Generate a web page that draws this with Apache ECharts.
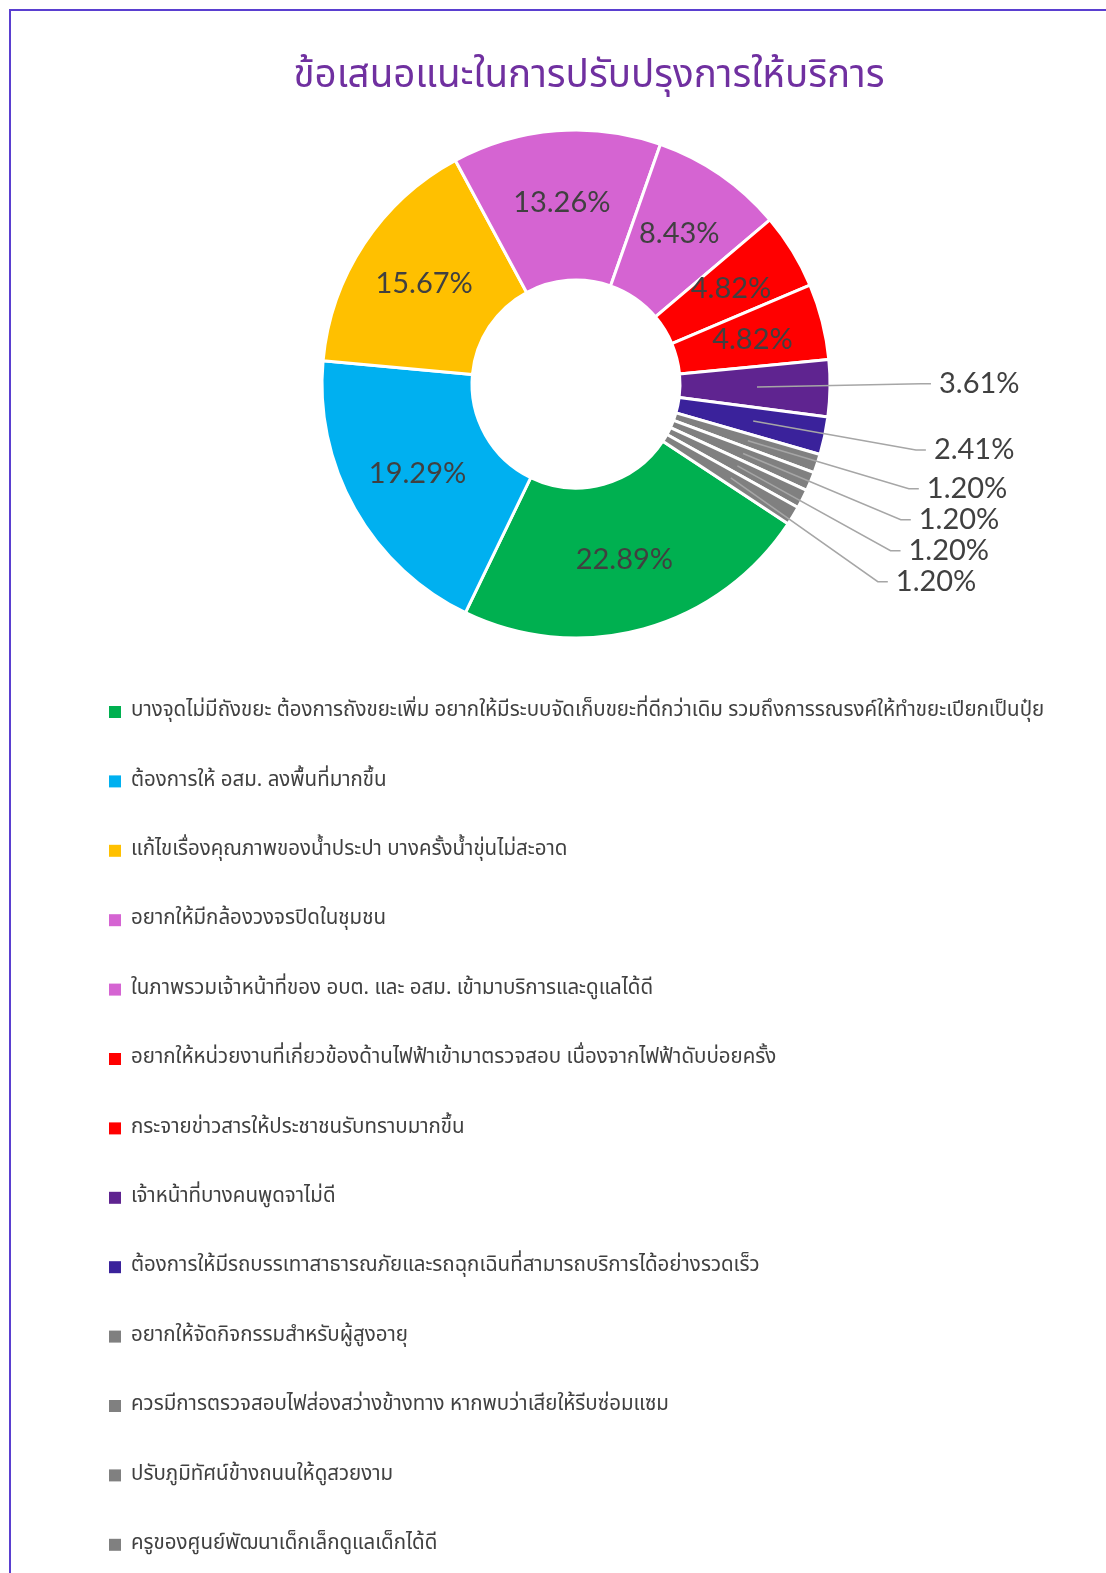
<!DOCTYPE html>
<html>
<head>
<meta charset="utf-8">
<script src="https://cdn.jsdelivr.net/npm/echarts@6/dist/echarts.min.js"></script>
<style>
  html, body { margin: 0; padding: 0; background: #ffffff; }
  #chart { position: absolute; left: 0; top: 0; width: 1106px; height: 1573px; }
</style>
</head>
<body>
<div id="chart"></div>
<script>
// Suggestions for improving services (share of responses, %)
const titleText = 'ข้อเสนอแนะในการปรับปรุงการให้บริการ';

const categories = [
  'บางจุดไม่มีถังขยะ ต้องการถังขยะเพิ่ม อยากให้มีระบบจัดเก็บขยะที่ดีกว่าเดิม รวมถึงการรณรงค์ให้ทำขยะเปียกเป็นปุ๋ย',
  'ต้องการให้ อสม. ลงพื้นที่มากขึ้น',
  'แก้ไขเรื่องคุณภาพของน้ำประปา บางครั้งน้ำขุ่นไม่สะอาด',
  'อยากให้มีกล้องวงจรปิดในชุมชน',
  'ในภาพรวมเจ้าหน้าที่ของ อบต. และ อสม. เข้ามาบริการและดูแลได้ดี',
  'อยากให้หน่วยงานที่เกี่ยวข้องด้านไฟฟ้าเข้ามาตรวจสอบ เนื่องจากไฟฟ้าดับบ่อยครั้ง',
  'กระจายข่าวสารให้ประชาชนรับทราบมากขึ้น',
  'เจ้าหน้าที่บางคนพูดจาไม่ดี',
  'ต้องการให้มีรถบรรเทาสาธารณภัยและรถฉุกเฉินที่สามารถบริการได้อย่างรวดเร็ว',
  'อยากให้จัดกิจกรรมสำหรับผู้สูงอายุ',
  'ควรมีการตรวจสอบไฟส่องสว่างข้างทาง หากพบว่าเสียให้รีบซ่อมแซม',
  'ปรับภูมิทัศน์ข้างถนนให้ดูสวยงาม',
  'ครูของศูนย์พัฒนาเด็กเล็กดูแลเด็กได้ดี'
];

const shares = [22.89, 19.29, 15.67, 13.26, 8.43, 4.82, 4.82, 3.61, 2.41, 1.20, 1.20, 1.20, 1.20];

const sliceColors = [
  '#00b050', '#00b0f0', '#ffc000', '#d564d2', '#d564d2', '#ff0000', '#ff0000',
  '#5f2490', '#3a229b', '#808080', '#808080', '#808080', '#808080'
];

// slices narrower than this get their label outside with a leader line
const OUTSIDE_LIMIT = 4;

const thaiFont = "'Noto Sans Thai', 'Noto Sans Thai UI', 'Leelawadee UI', Tahoma, 'Noto Sans', sans-serif";
const numFont = "Lato, 'Open Sans', sans-serif";
const labelColor = '#404040';

const CENTER = [576, 384];
const START = -33.4;
const LABEL_LIFT = 6;

const pct = v => v.toFixed(2) + '%';

const ringData = categories.map((name, i) => ({
  name: name,
  value: shares[i],
  itemStyle: { color: sliceColors[i] },
  label: { show: shares[i] >= OUTSIDE_LIMIT }
}));

// invisible inner pie drawn above the ring: its rim sits in the middle of the
// ring, so leader lines of the small slices start inside the slice
const anchorData = categories.map((name, i) => ({
  name: name,
  value: shares[i],
  label: { show: shares[i] < OUTSIDE_LIMIT },
  labelLine: { show: shares[i] < OUTSIDE_LIMIT }
}));

const chart = echarts.init(document.getElementById('chart'), null, { renderer: 'canvas' });

chart.setOption({
  animation: false,
  backgroundColor: '#ffffff',
  color: sliceColors,
  graphic: [{
    type: 'rect',
    silent: true,
    shape: { x: 10, y: 10, width: 1200, height: 1700 },
    style: { fill: null, stroke: '#5a3fd0', lineWidth: 2 }
  }],
  title: {
    text: titleText,
    left: 584,
    textAlign: 'center',
    top: 55,
    textStyle: { fontFamily: thaiFont, fontSize: 38.5, fontWeight: 'normal', color: '#7030a0' }
  },
  legend: {
    orient: 'vertical',
    left: 109,
    top: 700,
    padding: 0,
    icon: 'rect',
    itemWidth: 12,
    itemHeight: 12,
    itemGap: 45.4,
    selectedMode: false,
    data: categories,
    itemStyle: { borderWidth: 0 },
    textStyle: {
      fontFamily: thaiFont, fontSize: 20.5, color: labelColor,
      lineHeight: 24, padding: [0, 0, 0, 5]
    }
  },
  series: [
    {
      name: 'ring',
      type: 'pie',
      z: 2,
      center: CENTER,
      radius: [104, 254],
      startAngle: START,
      clockwise: true,
      avoidLabelOverlap: false,
      silent: true,
      itemStyle: { borderColor: '#ffffff', borderWidth: 3 },
      label: {
        position: 'inside',
        formatter: p => pct(p.value),
        fontFamily: numFont, fontSize: 29, color: labelColor
      },
      labelLine: { show: false },
      data: ringData
    },
    {
      name: 'anchors',
      type: 'pie',
      z: 3,
      center: CENTER,
      radius: [180, 181],
      startAngle: START,
      clockwise: true,
      silent: true,
      avoidLabelOverlap: true,
      itemStyle: { color: 'rgba(0,0,0,0)', borderWidth: 0 },
      label: {
        position: 'outside',
        formatter: p => pct(p.value),
        fontFamily: numFont, fontSize: 29, color: labelColor,
        distanceToLabelLine: 8
      },
      labelLine: {
        length: 172,
        length2: 10,
        lineStyle: { color: '#a6a6a6', width: 1.5 }
      },
      // raise the outside labels a little; the line keeps its anchor in the slice
      labelLayout: function (p) {
        if (!p.labelLinePoints) {
          return {};
        }
        const pts = p.labelLinePoints.map((pt, k) => k === 0 ? pt : [pt[0], pt[1] - LABEL_LIFT]);
        return {
          y: p.labelRect.y + p.labelRect.height / 2 - LABEL_LIFT,
          labelLinePoints: pts
        };
      },
      data: anchorData
    }
  ]
});
</script>
</body>
</html>
